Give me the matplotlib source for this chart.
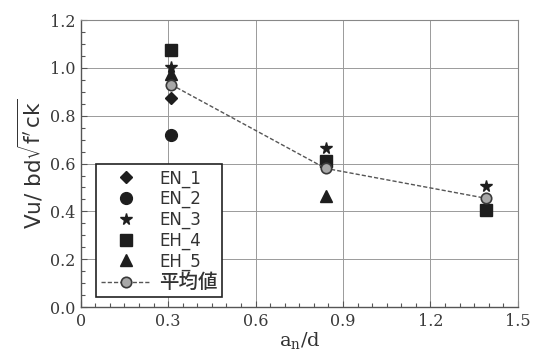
import numpy as np
import matplotlib
matplotlib.use("Agg")
import matplotlib.pyplot as plt
from matplotlib.ticker import MultipleLocator, FormatStrFormatter

# ---- data ----
an_d = [0.31, 0.84, 1.39]
EN_1 = [0.875, np.nan, np.nan]
EN_2 = [0.72, np.nan, np.nan]
EN_3 = [1.005, 0.665, 0.505]
EH_4 = [1.075, 0.61, 0.405]
EH_5 = [0.975, 0.465, np.nan]
mean_vals = [0.93, 0.58, 0.455]
labels = ["EN_1", "EN_2", "EN_3", "EH_4", "EH_5", "平均値"]

fig = plt.figure(figsize=(5.35, 3.51), dpi=100)
ax = fig.add_axes([0.151, 0.125, 0.817, 0.818])

mk = "#1e1e1e"
ax.plot(an_d, EN_1, ls="none", marker="D", ms=6, color=mk, label=labels[0], zorder=4)
ax.plot(an_d, EN_2, ls="none", marker="o", ms=8.5, color=mk, label=labels[1], zorder=4)
ax.plot(an_d, EN_3, ls="none", marker="*", ms=8.5, color=mk, label=labels[2], zorder=4)
ax.plot(an_d, EH_4, ls="none", marker="s", ms=8, color=mk, label=labels[3], zorder=4)
ax.plot(an_d, EH_5, ls="none", marker="^", ms=8.5, color=mk, label=labels[4], zorder=4)
ax.plot(an_d, mean_vals, ls=(0, (3, 1.5)), lw=1.0, color="#555555",
        marker="o", ms=7.5, mfc="#a8a8a8", mec="#3a3a3a", mew=1.2,
        label=labels[5], zorder=5)

ax.set_xlim(0, 1.5)
ax.set_ylim(0, 1.2)
ax.xaxis.set_major_locator(MultipleLocator(0.3))
ax.xaxis.set_minor_locator(MultipleLocator(0.05))
ax.yaxis.set_major_locator(MultipleLocator(0.2))
ax.yaxis.set_minor_locator(MultipleLocator(0.05))
ax.yaxis.set_major_formatter(FormatStrFormatter("%.1f"))

def xfmt(v, pos):
    if abs(v) < 1e-9:
        return "0"
    return "%.1f" % v
ax.xaxis.set_major_formatter(plt.FuncFormatter(xfmt))

ax.tick_params(which="both", direction="in", color="#555555", width=0.8)
ax.tick_params(which="major", length=4, pad=4)
ax.tick_params(which="minor", length=3)
for lab in ax.get_xticklabels() + ax.get_yticklabels():
    lab.set_family("DejaVu Serif")
    lab.set_fontsize(11.5)
    lab.set_color("#3a3a3a")

ax.grid(True, which="major", color="#9a9a9a", lw=0.7)
ax.set_axisbelow(True)
for s in ["left", "bottom"]:
    ax.spines[s].set_color("#555555")
    ax.spines[s].set_linewidth(1.0)
for s in ["top", "right"]:
    ax.spines[s].set_color("#888888")
    ax.spines[s].set_linewidth(0.8)

ax.set_xlabel(r"a$_\mathregular{n}$/d", family="DejaVu Serif", fontsize=14,
              color="#333333", labelpad=1)
ax.set_ylabel(r"Vu/ bd$\sqrt{\mathrm{f'\,ck}}$", family="DejaVu Sans", fontsize=15.5,
              color="#333333", labelpad=3)

leg = ax.legend(loc="lower left", bbox_to_anchor=(0.034, 0.035),
                prop={"family": ["DejaVu Sans", "Noto Sans CJK JP"], "size": 12},
                frameon=True, fancybox=False, edgecolor="#222222", framealpha=1,
                handlelength=3.0, handletextpad=0.5, labelspacing=0.15,
                borderpad=0.3, borderaxespad=0)
leg.get_frame().set_linewidth(1.2)
for t in leg.get_texts():
    t.set_color("#333333")
leg.get_texts()[5].set_fontsize(14)
leg.get_texts()[5].set_fontweight("medium")

fig.savefig("out.png", dpi=100)
